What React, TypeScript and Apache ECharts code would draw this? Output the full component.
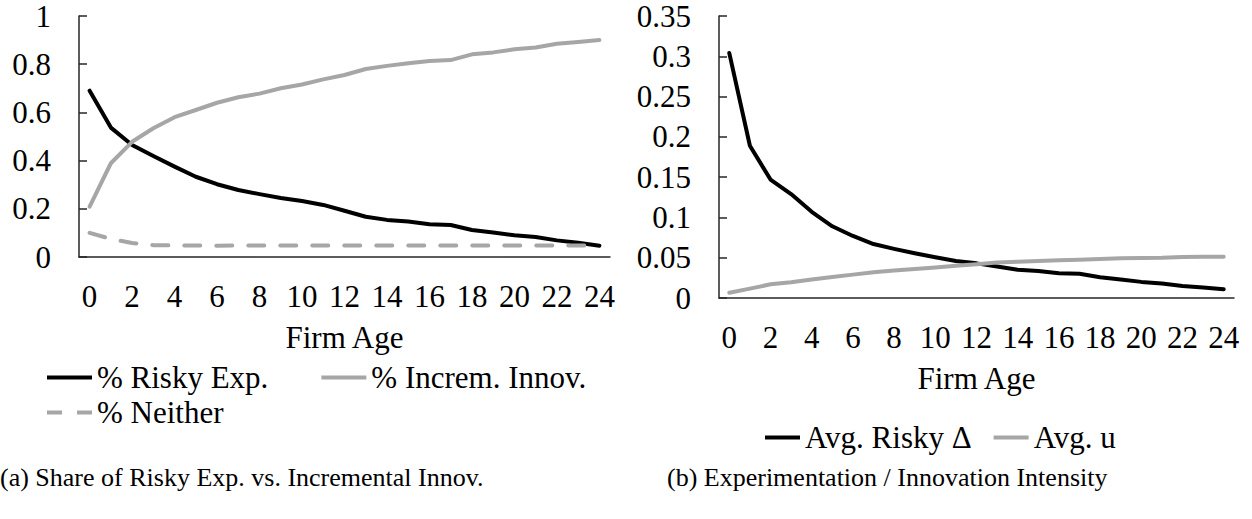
import React, { useEffect, useRef } from "react";
import * as echarts from "echarts";

const ages = Array.from({ length: 25 }, (_, i) => String(i));

const riskyExp = [0.69, 0.537, 0.465, 0.419, 0.375, 0.333, 0.302, 0.278, 0.261, 0.245, 0.232, 0.216, 0.192, 0.167, 0.154, 0.147, 0.136, 0.133, 0.112, 0.102, 0.09, 0.083, 0.069, 0.059, 0.047];
const incremInnov = [0.209, 0.389, 0.478, 0.534, 0.58, 0.61, 0.64, 0.663, 0.678, 0.7, 0.716, 0.737, 0.755, 0.78, 0.793, 0.804, 0.813, 0.817, 0.841, 0.849, 0.862, 0.869, 0.885, 0.892, 0.9];
const neither = [0.1, 0.075, 0.058, 0.049, 0.048, 0.048, 0.047, 0.048, 0.048, 0.048, 0.048, 0.048, 0.048, 0.048, 0.048, 0.048, 0.048, 0.048, 0.048, 0.048, 0.048, 0.048, 0.048, 0.048, 0.048];

const avgRiskyDelta = [0.304, 0.189, 0.147, 0.129, 0.107, 0.089, 0.077, 0.067, 0.061, 0.0555, 0.0505, 0.046, 0.043, 0.039, 0.035, 0.0335, 0.0307, 0.03, 0.0257, 0.023, 0.02, 0.018, 0.015, 0.013, 0.0108];
const avgU = [0.0066, 0.0116, 0.017, 0.0195, 0.023, 0.026, 0.029, 0.032, 0.034, 0.036, 0.038, 0.04, 0.042, 0.044, 0.045, 0.046, 0.047, 0.0476, 0.0485, 0.0493, 0.0497, 0.05, 0.051, 0.0513, 0.0513];

const FONT = "Liberation Serif";
const GRAY = "#a6a6a6";
const AXIS = "#262626";
const FS = 31;

export default function App() {
  const ref = useRef<HTMLDivElement>(null);
  useEffect(() => {
    if (!ref.current) return;
    const chart = echarts.init(ref.current, undefined, { renderer: "svg" });
    const xAxisBase = (gridIndex: number) => ({
      type: "category",
      gridIndex,
      data: ages,
      boundaryGap: true,
      axisLine: { lineStyle: { color: AXIS, width: 1.5 } },
      axisTick: { inside: true, interval: 0, length: 8, lineStyle: { color: AXIS, width: 1.5 } },
      axisLabel: { interval: 1, margin: 24, fontSize: FS, fontFamily: FONT, color: "#000" },
      splitLine: { show: false },
      name: "Firm Age",
      nameLocation: "middle",
      nameGap: 65,
      nameTextStyle: { fontSize: FS, fontFamily: FONT, color: "#000" },
    });
    const yAxisBase = (gridIndex: number, max: number, interval: number) => ({
      type: "value",
      gridIndex,
      min: 0,
      max,
      interval,
      axisLine: { show: true, lineStyle: { color: AXIS, width: 1.5 } },
      axisTick: { show: true, inside: true, length: 8, lineStyle: { color: AXIS, width: 1.5 } },
      axisLabel: { margin: 28, fontSize: FS, fontFamily: FONT, color: "#000" },
      splitLine: { show: false },
    });
    const lineSeries = (name: string, data: number[], xi: number, color: string, type: any = "solid") => ({
      name,
      type: "line",
      data,
      xAxisIndex: xi,
      yAxisIndex: xi,
      symbol: "none",
      showSymbol: false,
      lineStyle: { color, width: 4, type, cap: "round", join: "round" },
      itemStyle: { color },
    });
    const legendText = { fontSize: FS, fontFamily: FONT, color: "#000" };
    const dashIcon = "path://M0,0h15v4h-15z M30,0h15v4h-15z";
    chart.setOption({
      animation: false,
      grid: [
        { left: 79, top: 16, width: 531, height: 241 },
        { left: 719, top: 16, width: 515, height: 282 },
      ],
      xAxis: [xAxisBase(0), xAxisBase(1)],
      yAxis: [yAxisBase(0, 1, 0.2), yAxisBase(1, 0.35, 0.05)],
      legend: [
        {
          data: [
            { name: "% Risky Exp.", icon: "rect" },
            { name: "% Increm. Innov.", icon: "rect" },
          ],
          left: 42,
          top: 357,
          itemWidth: 45,
          itemHeight: 4,
          itemGap: 53,
          textStyle: legendText,
          selectedMode: false,
        },
        {
          data: [{ name: "% Neither", icon: dashIcon }],
          left: 42,
          top: 392,
          itemWidth: 45,
          itemHeight: 4,
          textStyle: legendText,
          selectedMode: false,
        },
        {
          data: [
            { name: "Avg. Risky Δ", icon: "rect" },
            { name: "Avg. u", icon: "rect" },
          ],
          left: 760,
          top: 417,
          itemWidth: 35,
          itemHeight: 4,
          itemGap: 22,
          textStyle: legendText,
          selectedMode: false,
        },
      ],
      graphic: [
        {
          type: "text",
          left: 0,
          top: 464,
          style: { text: "(a) Share of Risky Exp. vs. Incremental Innov.", font: `26px ${FONT}`, fill: "#000" },
        },
        {
          type: "text",
          left: 667,
          top: 464,
          style: { text: "(b) Experimentation / Innovation Intensity", font: `26px ${FONT}`, fill: "#000" },
        },
      ],
      series: [
        lineSeries("% Risky Exp.", riskyExp, 0, "#000"),
        lineSeries("% Increm. Innov.", incremInnov, 0, GRAY),
        lineSeries("% Neither", neither, 0, GRAY, [16, 16]),
        lineSeries("Avg. Risky Δ", avgRiskyDelta, 1, "#000"),
        lineSeries("Avg. u", avgU, 1, GRAY),
      ],
    });
    return () => chart.dispose();
  }, []);
  return (
    <div
      ref={ref}
      style={{ position: "fixed", left: 0, top: 0, width: 1252, height: 519, background: "#fff" }}
    />
  );
}
